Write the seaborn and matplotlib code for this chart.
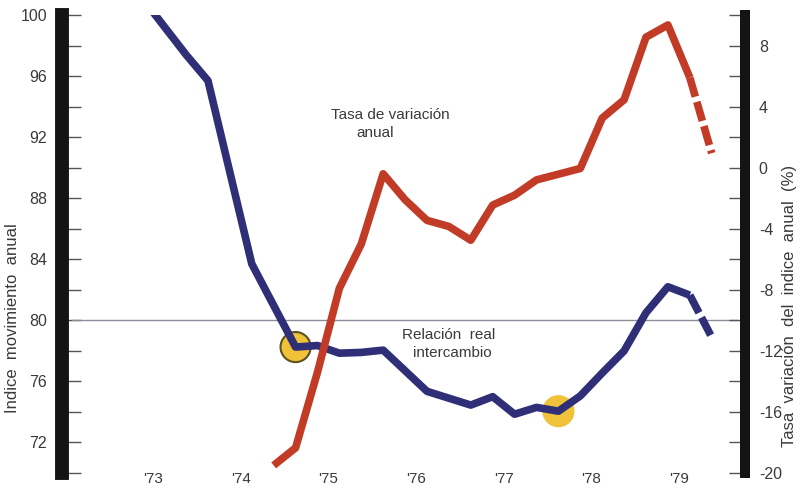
import numpy as np
import pandas as pd
import matplotlib
matplotlib.use("Agg")
import matplotlib.pyplot as plt
import seaborn as sns
from matplotlib.ticker import MultipleLocator

# ---------------- data ----------------
# x positions are fractional years (quarterly points)
blue_x = [1972.875, 1973.375, 1973.625, 1974.125, 1974.625, 1974.875, 1975.125,
          1975.375, 1975.625, 1975.875, 1976.125, 1976.375, 1976.625, 1976.875,
          1977.125, 1977.375, 1977.625, 1977.875, 1978.125, 1978.375, 1978.625,
          1978.875, 1979.125, 1979.375]
blue_y = [101.1, 97.4, 95.7, 83.7, 78.25, 78.35, 77.85,
          77.9, 78.05, 76.7, 75.35, 74.9, 74.45, 75.0,
          73.85, 74.3, 74.05, 75.05, 76.55, 78.0, 80.5,
          82.2, 81.65, 78.9]

red_x = [1974.375, 1974.625, 1974.875, 1975.125, 1975.375, 1975.625, 1975.875,
         1976.125, 1976.375, 1976.625, 1976.875, 1977.125, 1977.375, 1977.875,
         1978.125, 1978.375, 1978.625, 1978.875, 1979.125, 1979.375]
red_y = [-19.5, -18.35, -13.4, -7.9, -5.0, -0.4, -2.1,
         -3.45, -3.85, -4.75, -2.45, -1.8, -0.8, -0.05,
         3.25, 4.45, 8.55, 9.35, 5.9, 0.95]

dashed_from = 1979.125            # last segment of each series is dashed (estimate)

marker_x = [1974.625, 1977.625]   # highlighted points on "Relación real intercambio"
marker_y = [78.25, 74.05]

year_ticks = [1973, 1974, 1975, 1976, 1977, 1978, 1979]
year_labels = ["'73", "'74", "'75", "'76", "'77", "'78", "'79"]

left_label = "Indice  movimiento  anual"
right_label = "Tasa  variación  del  indice  anual  (%)"
red_name = ["Tasa de variación", "anual"]
blue_name = ["Relación  real", "intercambio"]

# ---------------- style ----------------
sns.set_style("white")
plt.rcParams['font.family'] = ['Liberation Sans', 'DejaVu Sans']
plt.rcParams['axes.unicode_minus'] = False

BLUE = "#2f2f78"
RED = "#c23b27"
YELLOW = "#f0c23a"
TXT = "#3a3a3a"
BAR = "#141414"

blue_df = pd.DataFrame({"x": blue_x, "y": blue_y})
red_df = pd.DataFrame({"x": red_x, "y": red_y})

fig = plt.figure(figsize=(8, 4.88), dpi=100)
fig.patch.set_facecolor("white")
ax = fig.add_axes([0.09, 0.0307, 0.8325, 0.9385])
ax2 = ax.twinx()

ax.axhline(80, color="#8c8c9a", lw=1.0, zorder=1)

sns.scatterplot(x=marker_x, y=marker_y, ax=ax, s=470, color=YELLOW,
                linewidth=1.5, zorder=2, legend=False)
ax.collections[-1].set_edgecolors(["#5f5020", YELLOW])

LW = 5.5
sns.lineplot(data=blue_df[blue_df.x <= dashed_from], x="x", y="y", ax=ax,
             color=BLUE, linewidth=LW, solid_capstyle="butt", zorder=3)
sns.lineplot(data=blue_df[blue_df.x >= dashed_from], x="x", y="y", ax=ax,
             color=BLUE, linewidth=LW, zorder=3)
ax.lines[-1].set_linestyle((0, (2.6, 0.7)))
ax.lines[-1].set_dash_capstyle("butt")

sns.lineplot(data=red_df[red_df.x <= dashed_from], x="x", y="y", ax=ax2,
             color=RED, linewidth=LW, solid_capstyle="butt", zorder=3)
sns.lineplot(data=red_df[red_df.x >= dashed_from], x="x", y="y", ax=ax2,
             color=RED, linewidth=LW, zorder=3)
ax2.lines[-1].set_linestyle((0, (2.6, 0.7)))
ax2.lines[-1].set_dash_capstyle("butt")

ax.set_xlim(1972.073, 1979.675)
ax.set_ylim(70, 100)
ax2.set_ylim(-20, 10)

# spines: thick black bars
for s in ["top", "right", "bottom"]:
    ax.spines[s].set_visible(False)
for s in ["top", "left", "bottom"]:
    ax2.spines[s].set_visible(False)
ax.spines["left"].set_position(("outward", 7))
ax.spines["left"].set_linewidth(10)
ax.spines["left"].set_color(BAR)
ax2.spines["right"].set_position(("outward", 5))
ax2.spines["right"].set_linewidth(7.2)
ax2.spines["right"].set_color(BAR)

# y ticks
for a in (ax, ax2):
    a.yaxis.set_major_locator(MultipleLocator(4))
    a.yaxis.set_minor_locator(MultipleLocator(2))
ax.tick_params(axis="y", which="both", direction="in", length=14, width=1,
               color="#555555", pad=11, labelsize=11.5, labelcolor=TXT)
ax2.tick_params(axis="y", which="both", direction="in", length=11.5, width=1,
                color="#555555", pad=10, labelsize=11.5, labelcolor=TXT)

# x ticks
quarters = np.arange(1972.625, 1979.5, 0.25)
ax.set_xticks(year_ticks)
ax.set_xticklabels(year_labels)
ax.set_xticks(quarters, minor=True)
ax.tick_params(axis="x", which="major", length=0, pad=-0.5, labelsize=11, labelcolor=TXT)
ax.tick_params(axis="x", which="minor", direction="in", length=6, width=1, color="#666666")
ax.set_xlabel("")

ax.set_ylabel(left_label, fontsize=12, color=TXT)
ax.yaxis.set_label_coords(-0.078, 0.338)
ax2.set_ylabel(right_label, fontsize=12, color=TXT)
ax2.yaxis.set_label_coords(1.066, 0.365)

# inline series labels
ax.text(1975.029, 93.44, red_name[0], fontsize=11, color=TXT, ha="left", va="center")
ax.text(1975.314, 92.27, red_name[1], fontsize=11, color=TXT, ha="left", va="center")
ax.text(1975.84, 79.04, blue_name[0], fontsize=11, color=TXT, ha="left", va="center")
ax.text(1975.965, 77.86, blue_name[1], fontsize=11, color=TXT, ha="left", va="center")

fig.savefig("out.png", dpi=100, facecolor="white")
